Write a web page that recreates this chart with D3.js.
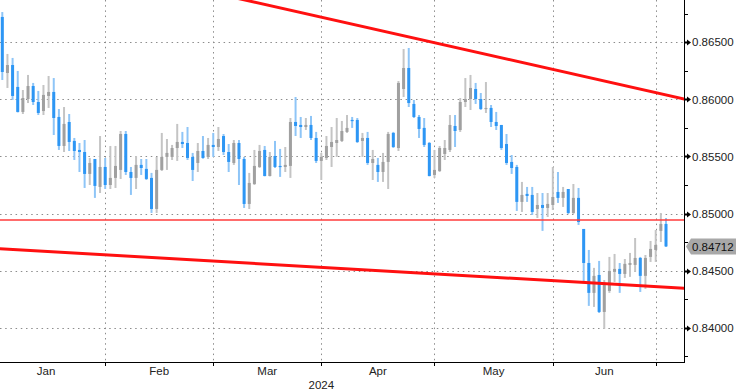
<!DOCTYPE html>
<html>
<head>
<meta charset="utf-8">
<script src="https://cdn.jsdelivr.net/npm/d3@7"></script>
<style>
  body { margin: 0; background: #fff; }
  svg { display: block; font-family: "Liberation Sans", Arial, sans-serif; }
</style>
</head>
<body>
<div id="wrapper"></div>
<script>
// EUR/GBP daily candles, 4 Jan - 3 Jul 2024
const openValues = [
  .86722,.86231,.86301,.86109,.85890,.86003,.86117,.85977,.85898,.86030,
  .86065,.85846,.85592,.85802,.85636,.85557,.85539,.85347,.85478,.85233,
  .85408,.85250,.85312,.85382,.85697,.85364,.85312,.85426,.85391,.85312,
  .85040,.85382,.85496,.85496,.85574,.85627,.85618,.85496,.85443,.85548,
  .85496,.85601,.85583,.85679,.85539,.85443,.85618,.85478,.85084,.85259,
  .85408,.85557,.85329,.85504,.85417,.85408,.85417,.85802,.85776,.85758,
  .85776,.85662,.85461,.85487,.85583,.85618,.85636,.85715,.85820,.85820,
  .85636,.85662,.85443,.85426,.85364,.85452,.85706,.85574,.86091,.86275,
  .85960,.85846,.85750,.85618,.85338,.85373,.85522,.85557,.85767,.85732,
  .85977,.86003,.86091,.86003,.85916,.85925,.85802,.85776,.85609,.85452,
  .85408,.85102,.85172,.85163,.85040,.85075,.85049,.85075,.85189,.85137,
  .85215,.85005,.85137,.84865,.84567,.84305,.84462,.84138,.84322,.84489,
  .84515,.84471,.84550,.84550,.84611,.84454,.84620,.84681,.84848,.84909
]
const highValues = [
  .86765,.86398,.86363,.86249,.86082,.86214,.86144,.86074,.86126,.86205,
  .86187,.85916,.85933,.85872,.85662,.85618,.85644,.85487,.85478,.85679,
  .85487,.85592,.85592,.85723,.85723,.85408,.85504,.85478,.85478,.85356,
  .85496,.85706,.85653,.85601,.85785,.85715,.85758,.85531,.85618,.85679,
  .85662,.85706,.85758,.85697,.85609,.85644,.85644,.85496,.85356,.85557,
  .85601,.85592,.85539,.85636,.85566,.85583,.85837,.86021,.85846,.85837,
  .85855,.85715,.85531,.85679,.85758,.85837,.85811,.85863,.85846,.85837,
  .85706,.85715,.85557,.85487,.85531,.85715,.85715,.86161,.86441,.86450,
  .85995,.85863,.85837,.85627,.85557,.85592,.85644,.85863,.85863,.86012,
  .86187,.86214,.86144,.86056,.86152,.85951,.85890,.85776,.85697,.85513,
  .85426,.85277,.85233,.85233,.85180,.85180,.85180,.85408,.85364,.85233,
  .85215,.85259,.85224,.84865,.84681,.84524,.84585,.84418,.84620,.84646,
  .84567,.84602,.84655,.84786,.84620,.84637,.84760,.84856,.85005,.84961
]
const lowValues = [
  .86170,.86100,.85995,.85885,.85872,.85968,.85951,.85863,.85863,.85925,
  .85688,.85557,.85539,.85548,.85469,.85364,.85224,.85250,.85137,.85180,
  .85215,.85215,.85224,.85303,.85338,.85163,.85215,.85338,.85294,.85005,
  .85005,.85373,.85382,.85469,.85461,.85574,.85469,.85285,.85364,.85480,
  .85478,.85496,.85548,.85513,.85364,.85426,.85250,.85049,.85040,.85250,
  .85399,.85325,.85325,.85399,.85321,.85364,.85312,.85679,.85662,.85732,
  .85644,.85443,.85294,.85469,.85408,.85496,.85627,.85706,.85750,.85618,
  .85496,.85426,.85294,.85277,.85277,.85215,.85574,.85548,.86021,.85933,
  .85837,.85662,.85583,.85325,.85312,.85364,.85469,.85539,.85583,.85715,
  .85933,.85907,.85960,.85907,.85881,.85758,.85732,.85557,.85426,.85347,
  .85023,.85014,.85102,.84988,.84961,.84848,.84970,.85031,.85093,.85058,
  .84996,.84996,.84900,.84401,.84191,.84182,.84129,.83989,.84305,.84401,
  .84305,.84436,.84445,.84489,.84313,.84340,.84576,.84576,.84751,.84707
]
const closeValues = [
  .86240,.86301,.86030,.85890,.86012,.86117,.85977,.85881,.86039,.86065,
  .85837,.85592,.85785,.85627,.85548,.85539,.85347,.85443,.85242,.85408,
  .85250,.85312,.85417,.85697,.85364,.85312,.85426,.85399,.85303,.85040,
  .85382,.85496,.85531,.85574,.85627,.85609,.85487,.85382,.85548,.85487,
  .85601,.85583,.85653,.85539,.85452,.85618,.85478,.85084,.85268,.85417,
  .85548,.85329,.85496,.85408,.85408,.85426,.85802,.85767,.85758,.85776,
  .85662,.85461,.85496,.85592,.85627,.85644,.85723,.85750,.85811,.85627,
  .85662,.85443,.85478,.85364,.85452,.85697,.85583,.86144,.86275,.85968,
  .85846,.85741,.85601,.85329,.85382,.85574,.85574,.85776,.85723,.85977,
  .86003,.86100,.86003,.85916,.85925,.85802,.85767,.85574,.85443,.85399,
  .85102,.85163,.85154,.85014,.85075,.85049,.85084,.85145,.85137,.85189,
  .85005,.85137,.84926,.84567,.84305,.84454,.84138,.84392,.84497,.84515,
  .84471,.84559,.84567,.84611,.84454,.84611,.84690,.84725,.84909,.84712
]

const yTicks = [0.840, 0.845, 0.850, 0.855, 0.860, 0.865]
const yMinorTicks = [0.8375, 0.8425, 0.8475, 0.8525, 0.8575, 0.8625, 0.8675]
const monthLabels = ["Jan", "Feb", "Mar", "Apr", "May", "Jun"]
const yearLabel = "2024"

// drawn lines: [trading-day index, price]
const upperTrend = [[40, 0.86943], [133, 0.85999]]
const lowerTrend = [[-1, 0.84693], [133, 0.84345]]
const resistanceLevel = 0.84944

let dimensions = {
  width: 736,
  height: 391,
  plotRight: 684,
  plotBottom: 362
}

// weekdays from 1 Jan, the data itself starts on 4 Jan
const allDays = d3.timeDays(new Date(2024, 0, 1), new Date(2024, 6, 4))
  .filter(d => d.getDay() % 6 !== 0)
const firstShown = 3
const candles = openValues.map((o, i) => ({
  idx: i + firstShown,
  date: allDays[i + firstShown],
  open: o, high: highValues[i], low: lowValues[i], close: closeValues[i]
}))

// first weekday index of each month
const monthStarts = []
allDays.forEach((d, i) => {
  if (i === 0 || d.getMonth() !== allDays[i - 1].getMonth()) monthStarts.push(i)
})

const xScale = d3.scaleLinear()
  .domain([firstShown, firstShown + candles.length - 1])
  .range([2.3, 666])

const yScale = d3.scaleLinear()
  .domain([0.840, 0.865])
  .range([327.7, 42.3])

const wrapper = d3.select("#wrapper")
  .append("svg")
  .attr("width", dimensions.width)
  .attr("height", dimensions.height)

wrapper.append("rect")
  .attr("width", dimensions.width)
  .attr("height", dimensions.height)
  .attr("fill", "#fff")

wrapper.append("clipPath").attr("id", "plot-clip")
  .append("rect")
  .attr("width", dimensions.plotRight)
  .attr("height", dimensions.plotBottom)

const plot = wrapper.append("g").attr("clip-path", "url(#plot-clip)")

// grid
plot.selectAll(".hgrid").data(yTicks)
  .enter().append("line")
  .attr("x1", 0).attr("x2", dimensions.plotRight)
  .attr("y1", d => Math.round(yScale(d)) + 0.5)
  .attr("y2", d => Math.round(yScale(d)) + 0.5)
  .attr("stroke", "#8c8c8c")
  .attr("stroke-dasharray", "1.5,3.7")

const gridMonths = monthStarts.slice(1)
plot.selectAll(".vgrid").data(gridMonths)
  .enter().append("line")
  .attr("x1", d => Math.round(xScale(d)) + 0.5)
  .attr("x2", d => Math.round(xScale(d)) + 0.5)
  .attr("y1", 0).attr("y2", dimensions.plotBottom)
  .attr("stroke", "#8c8c8c")
  .attr("stroke-dasharray", "1.5,3.7")

// candles
const isUp = d => d.close >= d.open
const candle = plot.selectAll(".candle").data(candles)
  .enter().append("g")

candle.append("line")
  .attr("x1", d => xScale(d.idx)).attr("x2", d => xScale(d.idx))
  .attr("y1", d => yScale(d.high)).attr("y2", d => yScale(d.low))
  .attr("stroke", d => isUp(d) ? "#c4c4c4" : "#8ec5f7")
  .attr("stroke-width", 2)

candle.append("rect")
  .attr("x", d => xScale(d.idx) - 1.5)
  .attr("width", 3)
  .attr("y", d => yScale(Math.max(d.open, d.close)))
  .attr("height", d => Math.max(1.2, Math.abs(yScale(d.open) - yScale(d.close))))
  .attr("fill", d => isUp(d) ? "#a0a0a0" : "#2d96f4")

// red lines
const lineGen = d3.line().x(d => xScale(d[0] + firstShown)).y(d => yScale(d[1]))

plot.append("line")
  .attr("x1", 0).attr("x2", dimensions.plotRight)
  .attr("y1", yScale(resistanceLevel)).attr("y2", yScale(resistanceLevel))
  .attr("stroke", "#ff3b3b")
  .attr("stroke-width", 1.4)

plot.selectAll(".trend").data([upperTrend, lowerTrend])
  .enter().append("path")
  .attr("d", lineGen)
  .attr("fill", "none")
  .attr("stroke", "#ff1010")
  .attr("stroke-width", 3)

// axes frame
wrapper.append("line")
  .attr("x1", dimensions.plotRight + 0.5).attr("x2", dimensions.plotRight + 0.5)
  .attr("y1", 0).attr("y2", dimensions.plotBottom + 1)
  .attr("stroke", "#000")
wrapper.append("line")
  .attr("x1", 0).attr("x2", dimensions.plotRight + 1)
  .attr("y1", dimensions.plotBottom + 0.5).attr("y2", dimensions.plotBottom + 0.5)
  .attr("stroke", "#000")

// right axis ticks and labels
const yAxisG = wrapper.append("g")
  .attr("transform", `translate(${dimensions.plotRight}, 0)`)

yAxisG.selectAll(".major").data(yTicks)
  .enter().append("path")
  .attr("d", d => {
    const y = Math.round(yScale(d)) + 0.5
    return `M0,${y - 1}L3,${y - 1}L3,${y - 3}L7,${y}L3,${y + 3}L3,${y + 1}L0,${y + 1}Z`
  })
  .attr("fill", "#000")

yAxisG.selectAll(".minor").data(yMinorTicks)
  .enter().append("line")
  .attr("x1", 0).attr("x2", 4)
  .attr("y1", d => Math.round(yScale(d)) + 0.5)
  .attr("y2", d => Math.round(yScale(d)) + 0.5)
  .attr("stroke", "#000")

yAxisG.selectAll(".label").data(yTicks)
  .enter().append("text")
  .attr("x", 8)
  .attr("y", d => yScale(d))
  .attr("dy", "0.36em")
  .attr("font-size", 11.5)
  .attr("fill", "#222")
  .text(d => d3.format(".5f")(d))

// last price tag
const lastPrice = candles[candles.length - 1].close
const ly = yScale(lastPrice)
yAxisG.append("path")
  .attr("d", `M2,${ly}L7,${ly - 8}L52,${ly - 8}L52,${ly + 8}L7,${ly + 8}Z`)
  .attr("fill", "#a8a8a8")
yAxisG.append("text")
  .attr("x", 8)
  .attr("y", ly)
  .attr("dy", "0.36em")
  .attr("font-size", 11.5)
  .attr("fill", "#111")
  .text(d3.format(".5f")(lastPrice))

// bottom axis
const xAxisG = wrapper.append("g")
xAxisG.selectAll(".xtick").data(gridMonths)
  .enter().append("line")
  .attr("x1", d => Math.round(xScale(d)) + 0.5)
  .attr("x2", d => Math.round(xScale(d)) + 0.5)
  .attr("y1", dimensions.plotBottom).attr("y2", dimensions.plotBottom + 4)
  .attr("stroke", "#000")

xAxisG.selectAll(".mlabel").data(monthLabels)
  .enter().append("text")
  .attr("x", (d, i) => (xScale(monthStarts[i]) + xScale(monthStarts[i + 1])) / 2)
  .attr("y", 375)
  .attr("text-anchor", "middle")
  .attr("font-size", 11.5)
  .attr("fill", "#222")
  .text(d => d)

xAxisG.append("text")
  .attr("x", (xScale(monthStarts[0]) + xScale(monthStarts[monthStarts.length - 1])) / 2)
  .attr("y", 389)
  .attr("text-anchor", "middle")
  .attr("font-size", 11.5)
  .attr("fill", "#222")
  .text(yearLabel)
</script>
</body>
</html>
